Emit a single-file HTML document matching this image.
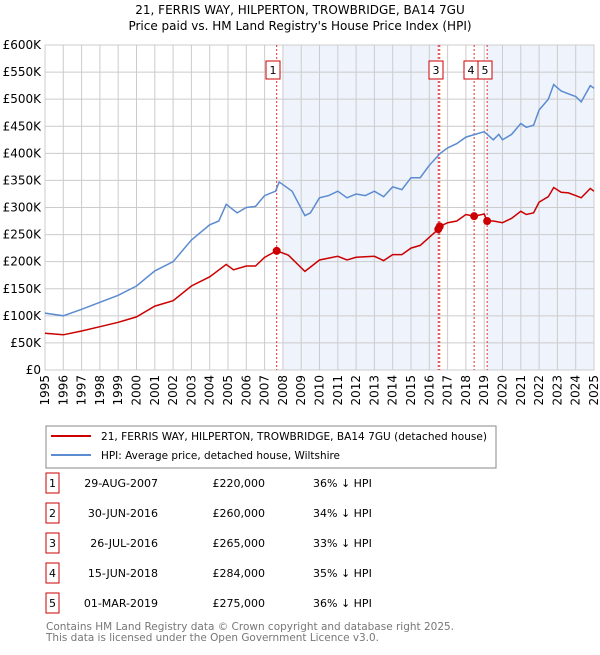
<!DOCTYPE html>
<html><head><meta charset="utf-8"><style>
body{margin:0;background:#fff;font-family:"Liberation Sans","DejaVu Sans",sans-serif;}
svg text{font-family:"DejaVu Sans","Liberation Sans",sans-serif;}
</style></head><body>
<svg width="600" height="650" xmlns="http://www.w3.org/2000/svg" id="chart">
<text x="300" y="14" text-anchor="middle" font-size="12">21, FERRIS WAY, HILPERTON, TROWBRIDGE, BA14 7GU</text>
<text x="300" y="30" text-anchor="middle" font-size="12">Price paid vs. HM Land Registry's House Price Index (HPI)</text>
<g id="plot"></g>
<rect x="46" y="426" width="450" height="42" fill="#fff" stroke="#888"/>
<line x1="51" y1="436" x2="91" y2="436" stroke="#cc0000" stroke-width="2"/>
<text x="101" y="440" font-size="11" textLength="386" lengthAdjust="spacingAndGlyphs">21, FERRIS WAY, HILPERTON, TROWBRIDGE, BA14 7GU (detached house)</text>
<line x1="51" y1="455" x2="91" y2="455" stroke="#5b8bd0" stroke-width="2"/>
<text x="101" y="459" font-size="11" textLength="239" lengthAdjust="spacingAndGlyphs">HPI: Average price, detached house, Wiltshire</text>
<g id="table" font-size="11"></g>
<text x="46" y="630" font-size="11" fill="#777" textLength="408" lengthAdjust="spacingAndGlyphs">Contains HM Land Registry data © Crown copyright and database right 2025.</text>
<text x="46" y="641" font-size="11" fill="#777" textLength="333" lengthAdjust="spacingAndGlyphs">This data is licensed under the Open Government Licence v3.0.</text>
</svg>
<script>
const hpiYears=[1995,1996,1997,1998,1999,2000,2001,2002,2003,2004,2004.5,2004.9,2005.5,2006,2006.5,2007,2007.6,2007.8,2008.5,2009.2,2009.5,2010,2010.5,2011,2011.5,2012,2012.5,2013,2013.5,2014,2014.5,2015,2015.5,2016,2016.6,2017,2017.5,2018,2018.5,2019,2019.5,2019.8,2020,2020.5,2021,2021.3,2021.7,2022,2022.5,2022.8,2023.2,2023.6,2024,2024.3,2024.8,2025];
const hpiValues=[105,100,112,125,138,155,183,200,240,268,275,306,290,300,302,322,330,347,330,285,290,318,322,330,318,325,322,330,320,338,333,355,355,378,400,410,418,430,435,440,425,435,425,435,455,448,452,480,500,527,515,510,505,495,525,520];
const redYears=[1995,1996,1997,1998,1999,2000,2001,2002,2003,2004,2004.9,2005.3,2006,2006.5,2007,2007.66,2008.3,2009.2,2009.5,2010,2011,2011.5,2012,2013,2013.5,2014,2014.5,2015,2015.5,2016.5,2016.57,2017,2017.5,2018,2018.45,2019,2019.16,2019.5,2020,2020.5,2021,2021.3,2021.7,2022,2022.5,2022.8,2023.2,2023.6,2024,2024.3,2024.8,2025];
const redValues=[68,65,72,80,88,98,118,128,155,172,195,185,192,192,208,220,212,182,190,203,210,203,208,210,202,213,213,225,230,260,265,272,275,287,284,288,275,275,272,280,293,287,290,310,320,337,328,327,322,318,335,330];
const saleLabels=["1","2","3","4","5"];
const saleDates=[2007.66,2016.49,2016.57,2018.45,2019.16];
const salePrices=[220,260,265,284,275];
const saleDateText=["29-AUG-2007","30-JUN-2016","26-JUL-2016","15-JUN-2018","01-MAR-2019"];
const salePriceText=["£220,000","£260,000","£265,000","£284,000","£275,000"];
const saleHpiText=["36% ↓ HPI","34% ↓ HPI","33% ↓ HPI","35% ↓ HPI","36% ↓ HPI"];
const yTicks=[0,50,100,150,200,250,300,350,400,450,500,550,600];
const yTickLabels=["£0","£50K","£100K","£150K","£200K","£250K","£300K","£350K","£400K","£450K","£500K","£550K","£600K"];
const xTicks=[1995,1996,1997,1998,1999,2000,2001,2002,2003,2004,2005,2006,2007,2008,2009,2010,2011,2012,2013,2014,2015,2016,2017,2018,2019,2020,2021,2022,2023,2024,2025];

const NS="http://www.w3.org/2000/svg";
const L=45,R=594,T=45,B=370;
const xs=y=>L+(y-1995)/30*(R-L);
const ys=v=>B-v/600*(B-T);
const g=document.getElementById('plot');
function mk(tag,attrs,parent){const e=document.createElementNS(NS,tag);for(const k in attrs)e.setAttribute(k,attrs[k]);(parent||g).appendChild(e);return e;}

let e;
e=mk('rect',{x:xs(2008),y:T,width:xs(saleDates[1])-xs(2008),height:B-T,fill:'#eef3fc'});


e=mk('rect',{x:xs(saleDates[4]),y:T,width:R-xs(saleDates[4]),height:B-T,fill:'#eef3fc'});



yTicks.forEach((v,i)=>{
  e=mk('line',{x1:L,x2:R,y1:ys(v),y2:ys(v),stroke:'#ccc'});
  
  
  e=mk('text',{x:L-4,y:ys(v)+4,'text-anchor':'end','font-size':12});
  e.textContent=yTickLabels[i];
  
  
});
xTicks.forEach(y=>{
  e=mk('line',{x1:xs(y),x2:xs(y),y1:T,y2:B,stroke:'#ccc'});
  
  
  const x=xs(y)+4;
  e=mk('text',{x:x,y:375,'text-anchor':'end','font-size':12,transform:`rotate(-90 ${x} 375)`});
  e.textContent=y;
  
  
});
e=mk('rect',{x:L,y:T,width:R-L,height:B-T,fill:'none',stroke:'#ccc'});



saleDates.forEach((d,i)=>{
  e=mk('line',{x1:xs(d),x2:xs(d),y1:T,y2:B,stroke:'#e03030','stroke-dasharray':'2,2','stroke-width':1});
  
  
});

const pts=(xa,va)=>xa.map((x,i)=>xs(x).toFixed(1)+','+ys(va[i]).toFixed(1)).join(' ');
e=mk('polyline',{points:pts(hpiYears,hpiValues),fill:'none',stroke:'#5b8bd0','stroke-width':1.5});


e=mk('polyline',{points:pts(redYears,redValues),fill:'none',stroke:'#cc0000','stroke-width':1.5});



saleDates.forEach((d,i)=>{
  e=mk('circle',{cx:xs(d),cy:ys(salePrices[i]),r:4,fill:'#cc0000'});
  
  
});
const boxX={0:273,2:436,3:471,4:485};
[0,2,3,4].forEach(i=>{
  const cx=boxX[i];
  e=mk('rect',{x:cx-7,y:61,width:14,height:18,fill:'#fff',stroke:'#cc0000'});
  
  
  e=mk('text',{x:cx,y:74,'text-anchor':'middle','font-size':11});
  e.textContent=saleLabels[i];
  
  
});

const tb=document.getElementById('table');
saleLabels.forEach((s,i)=>{
  const y=483+i*30;
  e=mk('rect',{x:46,y:y-10,width:13,height:20,fill:'#fff',stroke:'#cc0000'},tb);
  
  
  e=mk('text',{x:52.5,y:y+4,'text-anchor':'middle'},tb);e.textContent=s;
  
  
  e=mk('text',{x:158,y:y+4,'text-anchor':'end'},tb);e.textContent=saleDateText[i];
  
  
  e=mk('text',{x:265,y:y+4,'text-anchor':'end'},tb);e.textContent=salePriceText[i];
  
  
  e=mk('text',{x:313,y:y+4},tb);e.textContent=saleHpiText[i];
  
  
});
</script>
</body></html>
